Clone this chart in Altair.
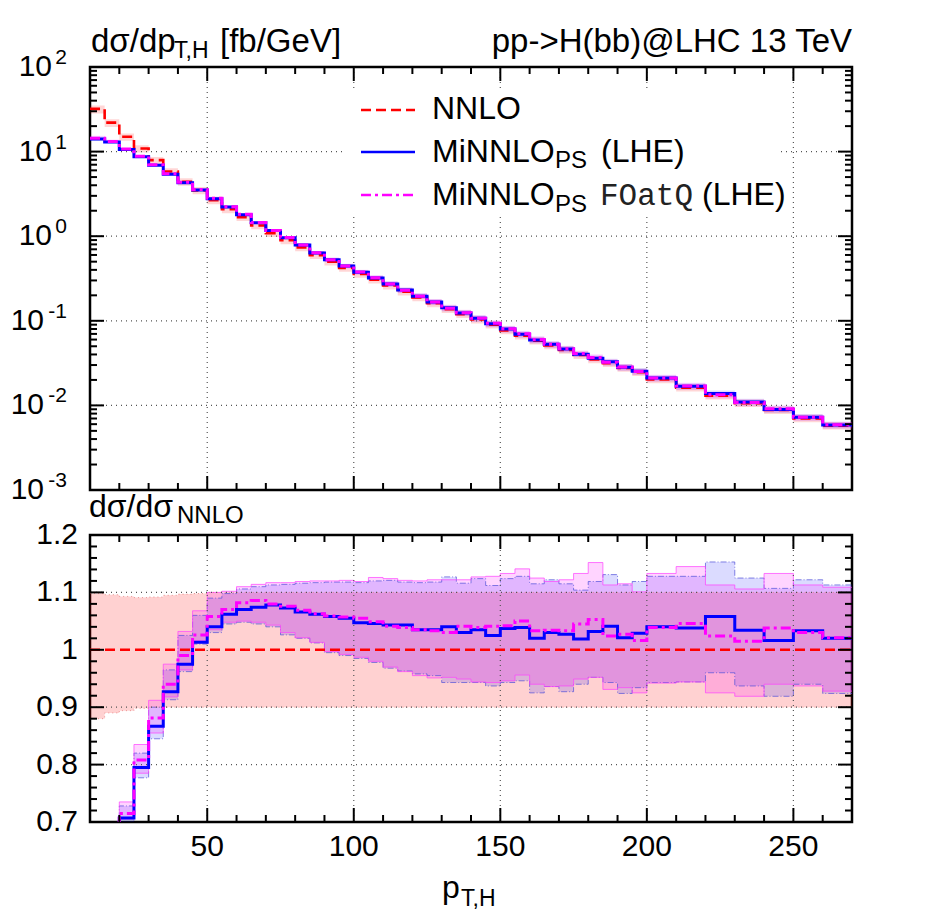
import altair as alt
import pandas as pd

# ---------------- data ----------------
edges = [10, 15, 20, 25, 30, 35, 40, 45, 50, 55, 60, 65, 70, 75, 80, 85, 90, 95,
         100, 105, 110, 115, 120, 125, 130, 135, 140, 145, 150, 155, 160, 165, 170,
         175, 180, 185, 190, 195, 200, 210, 220, 230, 240, 250, 260, 270]

nnlo = [32.0, 22.0, 15.0, 10.9, 7.93, 5.82, 4.40, 3.47, 2.66, 2.08, 1.68, 1.34, 1.085,
        0.895, 0.738, 0.598, 0.499, 0.421, 0.358, 0.307, 0.261, 0.2215, 0.189, 0.161,
        0.137, 0.120, 0.1034, 0.0898, 0.0771, 0.0668, 0.0582, 0.0512, 0.0452, 0.0394,
        0.0349, 0.0315, 0.0277, 0.0247, 0.0203, 0.0162, 0.01304, 0.01064, 0.00882,
        0.00703, 0.00577]

ratio_minnlo = [0.44, 0.59, 0.707, 0.795, 0.867, 0.927, 0.975, 1.013, 1.040, 1.062, 1.070,
                1.074, 1.078, 1.073, 1.066, 1.062, 1.058, 1.055, 1.047, 1.046, 1.043, 1.043,
                1.035, 1.035, 1.040, 1.030, 1.035, 1.025, 1.037, 1.039, 1.020, 1.030, 1.027,
                1.019, 1.032, 1.041, 1.021, 1.029, 1.040, 1.038, 1.058, 1.034, 1.016, 1.033,
                1.020]

ratio_foatq = [0.45, 0.60, 0.715, 0.808, 0.881, 0.940, 0.990, 1.026, 1.058, 1.070, 1.082,
               1.086, 1.080, 1.076, 1.069, 1.063, 1.059, 1.057, 1.055, 1.049, 1.041, 1.039,
               1.035, 1.033, 1.030, 1.041, 1.039, 1.041, 1.042, 1.050, 1.033, 1.034, 1.033,
               1.045, 1.053, 1.024, 1.027, 1.016, 1.039, 1.046, 1.024, 1.015, 1.038, 1.030,
               1.021]

nnlo_band_lo = [0.880, 0.890, 0.894, 0.898, 0.900, 0.900, 0.900, 0.900, 0.900, 0.900, 0.900,
                0.900, 0.900, 0.900, 0.900, 0.900, 0.900, 0.900, 0.900, 0.900, 0.900, 0.900,
                0.900, 0.900, 0.900, 0.900, 0.900, 0.900, 0.900, 0.900, 0.900, 0.900, 0.900,
                0.900, 0.900, 0.900, 0.900, 0.900, 0.900, 0.900, 0.900, 0.900, 0.900, 0.900,
                0.900]
nnlo_band_hi = [1.098, 1.096, 1.093, 1.091, 1.092, 1.095, 1.097, 1.098, 1.100, 1.100, 1.100,
                1.100, 1.100, 1.100, 1.100, 1.100, 1.100, 1.100, 1.100, 1.100, 1.100, 1.100,
                1.100, 1.100, 1.100, 1.100, 1.100, 1.100, 1.100, 1.100, 1.100, 1.100, 1.100,
                1.100, 1.100, 1.100, 1.100, 1.100, 1.100, 1.100, 1.100, 1.100, 1.100, 1.100,
                1.100]

minnlo_band_lo = [0.42, 0.57, 0.695, 0.777, 0.845, 0.913, 0.962, 1.010, 1.030, 1.045, 1.048,
                  1.045, 1.040, 1.026, 1.020, 1.012, 0.995, 0.990, 0.985, 0.978, 0.968, 0.963,
                  0.958, 0.955, 0.943, 0.943, 0.943, 0.937, 0.943, 0.946, 0.925, 0.936, 0.927,
                  0.940, 0.952, 0.943, 0.924, 0.934, 0.943, 0.944, 0.960, 0.937, 0.919, 0.940,
                  0.924]
minnlo_band_hi = [0.47, 0.62, 0.728, 0.820, 0.900, 0.965, 1.025, 1.060, 1.090, 1.098, 1.106,
                  1.110, 1.113, 1.114, 1.116, 1.117, 1.118, 1.118, 1.117, 1.120, 1.121, 1.118,
                  1.117, 1.118, 1.127, 1.116, 1.124, 1.112, 1.124, 1.128, 1.115, 1.122, 1.115,
                  1.104, 1.119, 1.131, 1.113, 1.119, 1.128, 1.128, 1.153, 1.125, 1.107, 1.122,
                  1.113]

foatq_band_lo = [0.43, 0.58, 0.705, 0.785, 0.855, 0.918, 0.965, 1.016, 1.035, 1.048, 1.050,
                 1.048, 1.043, 1.030, 1.021, 1.013, 0.997, 0.992, 0.987, 0.980, 0.970, 0.962,
                 0.955, 0.951, 0.952, 0.949, 0.944, 0.943, 0.946, 0.956, 0.940, 0.936, 0.937,
                 0.949, 0.952, 0.931, 0.934, 0.925, 0.942, 0.944, 0.925, 0.919, 0.940, 0.937,
                 0.928]
foatq_band_hi = [0.48, 0.63, 0.735, 0.835, 0.912, 0.975, 1.032, 1.068, 1.100, 1.102, 1.110,
                 1.114, 1.117, 1.117, 1.119, 1.120, 1.120, 1.121, 1.119, 1.126, 1.124, 1.121,
                 1.120, 1.122, 1.122, 1.122, 1.127, 1.128, 1.133, 1.141, 1.125, 1.119, 1.122,
                 1.133, 1.152, 1.113, 1.115, 1.101, 1.133, 1.145, 1.113, 1.106, 1.133, 1.113,
                 1.109]

x_major = [50, 100, 150, 200, 250]
x_minor = [20, 30, 40, 60, 70, 80, 90, 110, 120, 130, 140, 160, 170, 180, 190,
           210, 220, 230, 240, 260]
y_decades = [0.001, 0.01, 0.1, 1, 10, 100]
y_exponents = ["-3", "-2", "-1", "0", "1", "2"]
y_log_minor = [m * d for d in [0.001, 0.01, 0.1, 1, 10] for m in range(2, 10)]
r_major = [0.7, 0.8, 0.9, 1.0, 1.1, 1.2]
r_minor = [0.72, 0.74, 0.76, 0.78, 0.82, 0.84, 0.86, 0.88, 0.92, 0.94, 0.96, 0.98,
           1.02, 1.04, 1.06, 1.08, 1.12, 1.14, 1.16, 1.18]

# ---------------- tables ----------------
df = pd.DataFrame({
    "x": edges[:-1],
    "nnlo": nnlo,
    "r_mi": ratio_minnlo, "r_fo": ratio_foatq,
    "r_nlo": nnlo_band_lo, "r_nhi": nnlo_band_hi,
    "r_milo": minnlo_band_lo, "r_mihi": minnlo_band_hi,
    "r_folo": foatq_band_lo, "r_fohi": foatq_band_hi,
})
df["r_nn"] = df["nnlo"] / df["nnlo"]
for c in ["mi", "fo", "nlo", "nhi", "milo", "mihi", "folo", "fohi", "nn"]:
    df["t_" + c] = df["nnlo"] * df["r_" + c]
last = df.iloc[[-1]].copy()
last["x"] = edges[-1]
step = pd.concat([df, last], ignore_index=True)

W, HT, HB = 762, 423, 287
FONT = "Liberation Sans"
MONO = "Liberation Mono"
RED, BLUE, MAG = "#ff0000", "#0000ff", "#ff00ff"

xs = alt.Scale(domain=[10, 270], nice=False, zero=False)
yts = alt.Scale(type="log", domain=[0.001, 100], nice=False)
ybs = alt.Scale(domain=[0.7, 1.2], nice=False, zero=False)

one = pd.DataFrame({"a": [0]})


def X(field):
    return alt.X(field, type="quantitative", scale=xs, axis=None)


def Y(field, scale):
    return alt.Y(field, type="quantitative", scale=scale, axis=None)


def band(lo, hi, color, op, scale):
    return alt.Chart(step).mark_area(interpolate="step-after", color=color,
                                     opacity=op, clip=True).encode(
        x=X("x"), y=Y(lo, scale), y2=alt.Y2(hi))


def sline(col, scale, color, width, dash=None, op=1.0):
    kw = dict(interpolate="step-after", color=color, strokeWidth=width,
              clip=True, opacity=op)
    if dash:
        kw["strokeDash"] = dash
    return alt.Chart(step).mark_line(**kw).encode(x=X("x"), y=Y(col, scale))


def text(s, x, y, size, align="left", font=FONT, baseline="alphabetic", color="black"):
    return alt.Chart(one).mark_text(text=s, font=font, fontSize=size, align=align,
                                    baseline=baseline, color=color).encode(
        x=alt.value(x), y=alt.value(y))


def grid_layers(yvals, scale):
    gx = alt.Chart(pd.DataFrame({"v": x_major})).mark_rule(
        color="#555555", strokeDash=[1, 4], strokeWidth=1.2).encode(x=X("v"))
    gy = alt.Chart(pd.DataFrame({"v": yvals})).mark_rule(
        color="#555555", strokeDash=[1, 4], strokeWidth=1.2).encode(y=Y("v", scale))
    return [gx, gy]


def tick_layers(H, ymaj, ymin, scale):
    out = []
    for vals, L in [(x_major, 14), (x_minor, 7)]:
        d = pd.DataFrame({"v": vals})
        out.append(alt.Chart(d).mark_rule(color="black", strokeWidth=2).encode(
            x=X("v"), y=alt.value(H), y2=alt.value(H - L)))
        out.append(alt.Chart(d).mark_rule(color="black", strokeWidth=2).encode(
            x=X("v"), y=alt.value(0), y2=alt.value(L)))
    for vals, L in [(ymaj, 14), (ymin, 7)]:
        d = pd.DataFrame({"v": vals})
        out.append(alt.Chart(d).mark_rule(color="black", strokeWidth=2).encode(
            y=Y("v", scale), x=alt.value(0), x2=alt.value(L)))
        out.append(alt.Chart(d).mark_rule(color="black", strokeWidth=2).encode(
            y=Y("v", scale), x=alt.value(W), x2=alt.value(W - L)))
    return out


# ---------------- top panel ----------------
lab = pd.DataFrame({"v": y_decades, "e": y_exponents})
lab["neg"] = lab["e"].str.startswith("-")
exp_layer = alt.Chart(lab).mark_text(font=FONT, fontSize=21, align="right",
                                     baseline="alphabetic", dy=-3, color="black").encode(
    y=Y("v", yts), x=alt.value(-23), text="e:N")
ten_pos = alt.Chart(lab[~lab["neg"]]).mark_text(text="10", font=FONT, fontSize=30, align="right",
                                                baseline="middle", color="black").encode(
    y=Y("v", yts), x=alt.value(-38))
ten_neg = alt.Chart(lab[lab["neg"]]).mark_text(text="10", font=FONT, fontSize=30, align="right",
                                               baseline="middle", color="black").encode(
    y=Y("v", yts), x=alt.value(-46))

anchor = alt.Chart(one).mark_rule(opacity=0).encode(
    x=alt.value(-80), x2=alt.value(-79), y=alt.value(-57), y2=alt.value(-56))

legend_box = alt.Chart(one).mark_rect(color="white").encode(
    x=alt.value(255), x2=alt.value(690), y=alt.value(22), y2=alt.value(148))


def sample(y, color, dash=None):
    kw = dict(color=color, strokeWidth=2.5)
    if dash:
        kw["strokeDash"] = dash
    return alt.Chart(one).mark_rule(**kw).encode(
        x=alt.value(271), x2=alt.value(325), y=alt.value(y))


top_layers = [
    band("t_nlo", "t_nhi", RED, 0.16, yts),
    band("t_milo", "t_mihi", BLUE, 0.12, yts),
    band("t_folo", "t_fohi", MAG, 0.14, yts),
    *grid_layers([0.01, 0.1, 1, 10], yts),
    sline("t_nn", yts, RED, 2.6, [10, 5]),
    sline("t_mi", yts, BLUE, 3.0),
    sline("t_fo", yts, MAG, 3.0, [10, 4, 3, 4]),
    legend_box,
    sample(43, RED, [10, 5]),
    sample(85, BLUE),
    sample(128, MAG, [10, 4, 3, 4]),
    text("NNLO", 342, 52, 32),
    text("MiNNLO", 342, 95, 32),
    text("PS", 465, 101, 24),
    text("(LHE)", 511, 95, 32),
    text("MiNNLO", 342, 138, 32),
    text("PS", 465, 145, 24),
    text("FOatQ", 510, 138, 31, font=MONO, color="#222222"),
    text("(LHE)", 612, 138, 32),
    *tick_layers(HT, y_decades, y_log_minor, yts),
    exp_layer, ten_pos, ten_neg,
    text("d\u03c3/dp", 1, -15, 33),
    text("T,H", 84, -9, 23),
    text("[fb/GeV]", 130, -15, 33),
    text("pp->H(bb)@LHC 13 TeV", W, -15, 33, align="right"),
    anchor,
]
top = alt.layer(*top_layers).properties(width=W, height=HT)

# ---------------- ratio panel ----------------
xlab = alt.Chart(pd.DataFrame({"v": x_major})).mark_text(
    font=FONT, fontSize=30, align="center", baseline="middle", color="black").encode(
    x=X("v"), y=alt.value(HB + 25), text=alt.Text("v:Q", format="d"))
ylab = alt.Chart(pd.DataFrame({"v": r_major})).mark_text(
    font=FONT, fontSize=30, align="right", baseline="middle", color="black").encode(
    y=Y("v", ybs), x=alt.value(-12), text=alt.Text("v:Q", format="~g"))


def edge(col, color, width, dash=None, op=1.0):
    return sline(col, ybs, color, width, dash, op)


bot_layers = [
    band("r_nlo", "r_nhi", RED, 0.18, ybs),
    band("r_milo", "r_mihi", BLUE, 0.14, ybs),
    band("r_folo", "r_fohi", MAG, 0.17, ybs),
    edge("r_milo", "#5050d8", 1.0, [6, 2, 1, 2], 0.7),
    edge("r_mihi", "#5050d8", 1.0, [6, 2, 1, 2], 0.7),
    edge("r_folo", "#ff40ff", 1.0, None, 0.7),
    edge("r_fohi", "#ff40ff", 1.0, None, 0.7),
    edge("r_nlo", "#e06060", 1.0, [1, 3], 0.6),
    edge("r_nhi", "#e06060", 1.0, [1, 3], 0.6),
    *grid_layers([0.8, 0.9, 1.1], ybs),
    sline("r_nn", ybs, RED, 2.6, [10, 5]),
    sline("r_mi", ybs, BLUE, 3.0),
    sline("r_fo", ybs, MAG, 3.0, [10, 4, 3, 4]),
    *tick_layers(HB, r_major, r_minor, ybs),
    xlab, ylab,
    text("d\u03c3/d\u03c3", -1, -18, 32),
    text("NNLO", 87, -12, 24),
    text("p", 352, 363, 32),
    text("T,H", 371, 371, 23),
]
bottom = alt.layer(*bot_layers).properties(width=W, height=HB)

chart = alt.vconcat(top, bottom, spacing=45, bounds="flush").properties(
    padding=0
).configure_view(stroke="black", strokeWidth=2.5)

chart.save("out.html", embed_options={"renderer": "svg", "actions": False})
